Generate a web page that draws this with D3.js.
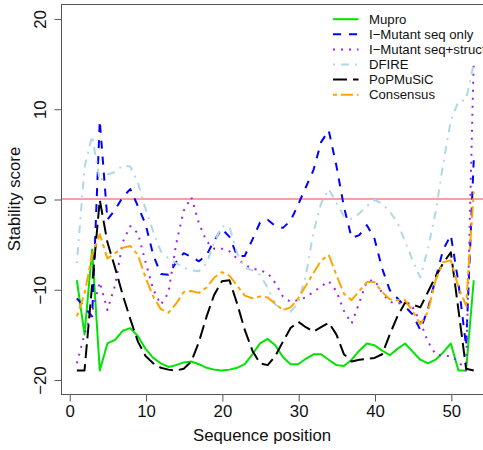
<!DOCTYPE html>
<html>
<head>
<meta charset="utf-8">
<script src="https://cdn.jsdelivr.net/npm/d3@7"></script>
<style>
  html, body { margin: 0; padding: 0; background: #fff; }
  svg { display: block; font-family: "Liberation Sans", Arial, Helvetica, sans-serif; }
</style>
</head>
<body>
<svg id="chart" width="483" height="450"></svg>
<script>
// Sequence positions along the protein
const positions = [1,2,3,4,5,6,7,8,9,10,11,12,13,14,15,16,17,18,19,20,21,22,23,24,25,26,27,28,29,30,
  31,32,33,34,35,36,37,38,39,40,41,42,43,44,45,46,47,48,49,50,51,52,53];

// Stability scores per predictor
const mupro = [-9.0,-15.0,-5.6,-19.0,-16.0,-15.6,-14.6,-14.3,-15.2,-16.6,
  -17.6,-18.2,-18.6,-18.4,-18.1,-18.0,-18.3,-18.7,-18.9,-19.0,
  -18.9,-18.7,-18.3,-17.2,-16.0,-15.5,-16.2,-17.5,-18.3,-18.3,
  -17.7,-17.2,-17.2,-17.8,-18.4,-18.5,-17.8,-16.8,-16.0,-16.2,
  -16.8,-17.3,-16.6,-16.0,-16.9,-17.8,-18.2,-17.8,-17.0,-16.0,
  -19.0,-19.0,-9.0];
const imutantSeq = [-11.0,-12.0,-13.0,8.7,-2.3,-1.2,0.2,1.1,-0.8,-2.8,
  -6.2,-8.3,-8.4,-7.0,-6.0,-6.4,-6.9,-6.2,-4.6,-3.3,
  -4.2,-6.3,-6.3,-4.5,-2.6,-2.3,-3.0,-3.2,-2.4,-0.6,
  1.3,3.2,6.3,7.6,3.7,-0.9,-4.3,-4.0,-2.9,-4.4,
  -7.7,-10.1,-11.0,-11.9,-12.8,-14.5,-12.2,-8.8,-5.6,-4.0,
  -9.3,-16.3,4.3];
const imutantStruct = [-18.2,-15.0,-12.5,-9.2,-12.3,-9.6,-4.8,-3.0,-3.8,-7.0,
  -10.0,-11.7,-10.4,-5.0,-1.3,0.2,-2.7,-4.7,-5.5,-5.5,
  -5.8,-6.6,-7.3,-7.7,-7.9,-8.2,-9.3,-10.8,-11.4,-11.2,
  -10.9,-10.3,-9.7,-9.1,-10.2,-12.4,-13.8,-11.5,-9.1,-9.0,
  -10.4,-11.4,-11.6,-11.4,-12.0,-13.6,-15.8,-17.2,-17.4,-17.4,
  -18.0,-19.0,15.3];
const dfire = [-7.1,3.5,7.0,2.0,2.7,3.0,3.7,3.6,1.8,-1.1,
  -3.6,-5.8,-6.6,-7.1,-7.6,-7.9,-8.0,-7.1,-4.8,-3.0,
  -3.1,-6.0,-7.6,-7.9,-8.4,-9.8,-11.7,-12.2,-12.5,-11.5,
  -8.5,-3.7,-0.5,1.1,-0.4,-1.9,-2.2,-1.6,-0.8,-0.1,
  -0.5,-1.4,-2.6,-4.7,-6.8,-8.7,-5.5,-1.5,3.9,8.7,
  10.8,11.0,15.0];
const popmusic = [-19.0,-19.0,-9.5,-0.1,-4.8,-7.6,-10.6,-13.3,-15.8,-17.4,
  -18.2,-18.7,-18.9,-19.0,-18.8,-18.0,-15.8,-13.0,-10.6,-9.1,
  -9.0,-11.6,-14.5,-16.8,-18.2,-18.4,-17.4,-15.8,-14.3,-13.6,
  -14.2,-14.7,-14.2,-13.7,-15.0,-17.2,-18.0,-17.8,-17.7,-17.6,
  -17.2,-15.0,-13.0,-11.5,-11.7,-12.0,-10.3,-8.6,-7.1,-5.9,
  -12.3,-18.8,-19.0];
const consensus = [-13.0,-10.5,-6.2,-3.9,-6.6,-6.0,-5.4,-5.2,-6.2,-8.7,
  -10.8,-12.2,-12.6,-11.6,-10.3,-10.2,-10.4,-9.8,-8.7,-8.1,
  -8.5,-9.6,-10.7,-11.0,-10.8,-10.9,-11.6,-12.3,-12.0,-11.0,
  -9.6,-8.2,-6.8,-6.2,-8.4,-10.5,-11.2,-10.2,-9.2,-9.2,
  -10.3,-11.1,-11.2,-11.2,-12.4,-13.9,-12.5,-9.0,-7.0,-6.8,
  -9.8,-11.8,0.8];

const seriesNames = ["Mupro", "I\u2212Mutant seq only", "I\u2212Mutant seq+struct", "DFIRE", "PoPMuSiC", "Consensus"];
const seriesValues = [mupro, imutantSeq, imutantStruct, dfire, popmusic, consensus];
const xTicks = [0, 10, 20, 30, 40, 50];
const yTicks = [-20, -10, 0, 10, 20];
const xTitle = "Sequence position";
const yTitle = "Stability score";
const referenceLevel = 0;

// Line styles (colour + dash pattern) per predictor
const lineStyles = [
  { color: "#00e400", dash: null },
  { color: "#0000ff", dash: "8,8" },
  { color: "#a020f0", dash: "2,6" },
  { color: "#add8e6", dash: "2,6,8,6" },
  { color: "#000000", dash: "14,6" },
  { color: "#ffa500", dash: "4,4,12,4" }
];

const svg = d3.select("#chart");
const plot = { left: 61, top: 4, right: 489.6, bottom: 394 };

const x = d3.scaleLinear().domain([-1.08, 55.08]).range([plot.left, plot.right]);
const y = d3.scaleLinear().domain([-21.6, 21.6]).range([plot.bottom, plot.top]);

svg.append("rect").attr("width", 483).attr("height", 450).attr("fill", "#fff");

svg.append("defs").append("clipPath").attr("id", "plotClip")
  .append("rect")
  .attr("x", plot.left).attr("y", plot.top)
  .attr("width", plot.right - plot.left).attr("height", plot.bottom - plot.top);

const inner = svg.append("g").attr("clip-path", "url(#plotClip)");

// zero reference line
inner.append("line")
  .attr("x1", plot.left).attr("x2", plot.right)
  .attr("y1", y(referenceLevel)).attr("y2", y(referenceLevel))
  .attr("stroke", "#e64646").attr("stroke-width", 1);

const line = d3.line()
  .x((d, i) => x(positions[i]))
  .y(d => y(d));

seriesValues.forEach((vals, k) => {
  inner.append("path")
    .datum(vals)
    .attr("d", line)
    .attr("fill", "none")
    .attr("stroke", lineStyles[k].color)
    .attr("stroke-width", 2)
    .attr("stroke-linejoin", "round")
    .attr("stroke-linecap", "butt")
    .attr("stroke-dasharray", lineStyles[k].dash);
});

// frame
svg.append("rect")
  .attr("x", plot.left + 0.5).attr("y", plot.top + 0.5)
  .attr("width", plot.right - plot.left).attr("height", plot.bottom - plot.top)
  .attr("fill", "none").attr("stroke", "#555").attr("stroke-width", 1);

// axes
const axisFont = 16.8;
const xAxis = svg.append("g")
  .attr("transform", `translate(0.5,${plot.bottom + 0.5})`)
  .call(d3.axisBottom(x).tickValues(xTicks).tickSize(7).tickPadding(4).tickFormat(d3.format("d")));
xAxis.select(".domain").remove();
xAxis.selectAll(".tick line").attr("stroke", "#555");
xAxis.selectAll(".tick text")
  .attr("font-size", axisFont).attr("fill", "#111")
  .attr("font-family", "Liberation Sans, Arial, sans-serif");

const yAxis = svg.append("g")
  .attr("transform", `translate(${plot.left + 0.5},0.5)`)
  .call(d3.axisLeft(y).tickValues(yTicks).tickSize(7).tickFormat(d3.format("d")));
yAxis.select(".domain").remove();
yAxis.selectAll(".tick line").attr("stroke", "#555");
yAxis.selectAll(".tick text")
  .attr("x", null).attr("dy", null)
  .attr("text-anchor", "middle")
  .attr("transform", "translate(-16,0) rotate(-90)")
  .attr("font-size", axisFont).attr("fill", "#111")
  .attr("font-family", "Liberation Sans, Arial, sans-serif");

// axis titles
svg.append("text")
  .attr("x", (x(0) + x(50)) / 2 + 2).attr("y", 441)
  .attr("text-anchor", "middle")
  .attr("font-size", axisFont).attr("fill", "#111")
  .text(xTitle);

svg.append("text")
  .attr("transform", `translate(20,${(y(-20) + y(20)) / 2}) rotate(-90)`)
  .attr("text-anchor", "middle")
  .attr("font-size", axisFont).attr("fill", "#111")
  .text(yTitle);

// legend
const legend = svg.append("g");
const legendTop = 19.2, legendStep = 15.1;
seriesNames.forEach((name, k) => {
  const yy = legendTop + k * legendStep;
  legend.append("line")
    .attr("x1", 333).attr("x2", 358.5)
    .attr("y1", yy).attr("y2", yy)
    .attr("stroke", lineStyles[k].color)
    .attr("stroke-width", 2)
    .attr("stroke-dasharray", lineStyles[k].dash);
  legend.append("text")
    .attr("x", 369).attr("y", yy).attr("dy", "0.36em")
    .attr("font-size", 13.2).attr("fill", "#111")
    .text(name);
});
</script>
</body>
</html>
